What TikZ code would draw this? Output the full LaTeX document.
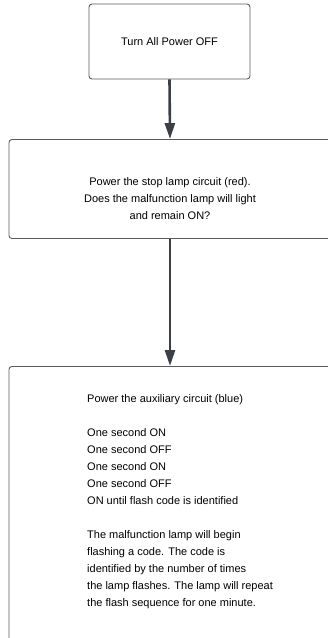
\documentclass[tikz,border=0pt]{standalone}
\usepackage{fontspec}
\setmainfont{Liberation Sans}
\usetikzlibrary{positioning,arrows.meta}
\definecolor{boxline}{HTML}{5A5A5A}
\definecolor{arrowline}{HTML}{3B3F47}
\tikzset{
stepbox/.style={draw=boxline, line width=0.9pt, rounded corners=3pt, inner sep=0pt},
flowarrow/.style={draw=arrowline, line width=2.6pt,
    -{Triangle[width=10pt,length=16pt]}},
txt/.style={font=\fontsize{11}{17}\selectfont, inner sep=0pt}
}
\begin{document}
\begin{tikzpicture}[x=1pt,y=-1pt]
\useasboundingbox (0,0) rectangle (328,638);
\clip (0,0) rectangle (328,638);

\node[stepbox, minimum width=161pt, minimum height=75pt] (off) at (169.5,41.5) {};
\node[stepbox, minimum width=322pt, minimum height=99pt] (stop) at (170,189) {};
\node[stepbox, minimum width=322pt, minimum height=320pt, anchor=north] (aux) at (170,366) {};

\node[txt] (offtxt) at (off.center) {Turn All Power OFF};
\node[txt, align=center] (stoptxt) at (170,199) {Power the stop lamp circuit (red).\\
Does the malfunction lamp will light\\ and remain ON?};
\node[txt, align=left, anchor=north west] (auxtxt) at (87,394) {Power the auxiliary circuit (blue)\\[17pt]
One second ON\\ One second OFF\\ One second ON\\ One second OFF\\
ON until flash code is identified\\[17pt]
The malfunction lamp will begin\\ flashing a code. The code is\\
identified by the number of times\\ the lamp flashes. The lamp will repeat\\
the flash sequence for one minute.};

\draw[flowarrow] (off.south) -- (stop.north);
\draw[flowarrow] (stop.south) -- (aux.north);
\end{tikzpicture}
\end{document}
